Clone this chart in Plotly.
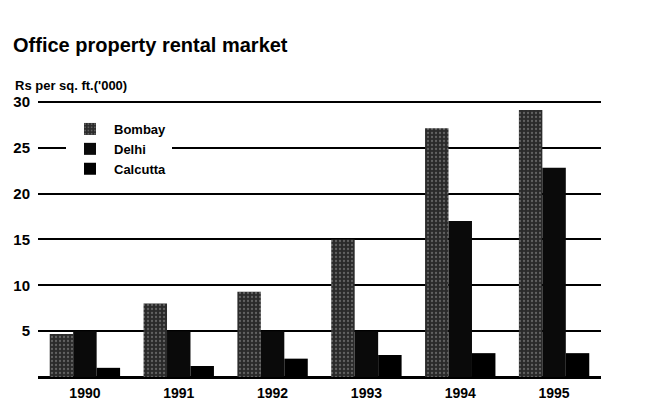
import plotly.graph_objects as go

years = ["1990", "1991", "1992", "1993", "1994", "1995"]
bombay = [4.7, 8.0, 9.3, 15.0, 27.1, 29.1]
delhi = [5.0, 5.0, 5.0, 5.0, 17.0, 22.8]
calcutta = [1.0, 1.2, 2.0, 2.4, 2.6, 2.6]
y_ticks = [5, 10, 15, 20, 25, 30]

W, H = 649, 405
OFF = 8  # page body margin offset
# target plot area in window pixels: x 38..601, y 99..377
L, R, T, B = 38 - OFF, W - 601 + OFF, 99 - OFF, H - 377 + OFF
PW, PH = W - L - R, H - T - B
PX0, PY0 = 38, 99  # plot area top-left in window pixels

fig = go.Figure()
fig.add_trace(go.Bar(
    x=years, y=bombay, name="Bombay",
    marker=dict(color="#2a2a2a", line=dict(width=0),
                pattern=dict(shape=".", fgcolor="#9a9a9a", bgcolor="#2a2a2a", size=4, solidity=0.25)),
))
fig.add_trace(go.Bar(x=years, y=delhi, name="Delhi", marker=dict(color="#0a0a0a", line=dict(width=0))))
fig.add_trace(go.Bar(x=years, y=calcutta, name="Calcutta", marker=dict(color="#000000", line=dict(width=0))))

font_fam = "Liberation Sans, Arial, sans-serif"
fig.update_layout(
    width=W, height=H,
    margin=dict(l=L, r=R, t=T, b=B, pad=0, autoexpand=False),
    paper_bgcolor="white", plot_bgcolor="white",
    barmode="group", bargap=0.25, bargroupgap=0.0,
    font=dict(family=font_fam, color="black", size=13, weight="bold"),
    title=dict(text="<b>Office property rental market</b>", xref="container", yref="container",
               x=(13 - OFF) / W, xanchor="left", y=1 - (45 - OFF) / H, yanchor="middle",
               font=dict(size=20, family=font_fam, color="black")),
    annotations=[dict(text="<b>Rs per sq. ft.('000)</b>", xref="paper", yref="paper",
                      x=(13 - PX0) / PW, y=1 + (PY0 - 85) / PH,
                      xanchor="left", yanchor="middle", showarrow=False,
                      font=dict(size=13, family=font_fam, color="black"))],
    legend=dict(x=(66 - PX0) / PW, y=(PY0 + PH - 114) / PH, xanchor="left", yanchor="top",
                bgcolor="white", font=dict(size=13, family=font_fam, color="black"),
                tracegroupgap=0, itemwidth=38),
    xaxis=dict(showgrid=False, ticks="", showline=False, tickfont=dict(size=14),
               range=[-0.5, 5.5], ticklabelstandoff=6, automargin=False),
    yaxis=dict(range=[0, 30.3], tickvals=y_ticks, showgrid=True, gridcolor="black", gridwidth=2,
               zeroline=True, zerolinecolor="black", zerolinewidth=3, ticks="", showline=False,
               tickfont=dict(size=15), ticklabelstandoff=7, automargin=False),
    showlegend=True,
)
fig.write_html("out.html")
